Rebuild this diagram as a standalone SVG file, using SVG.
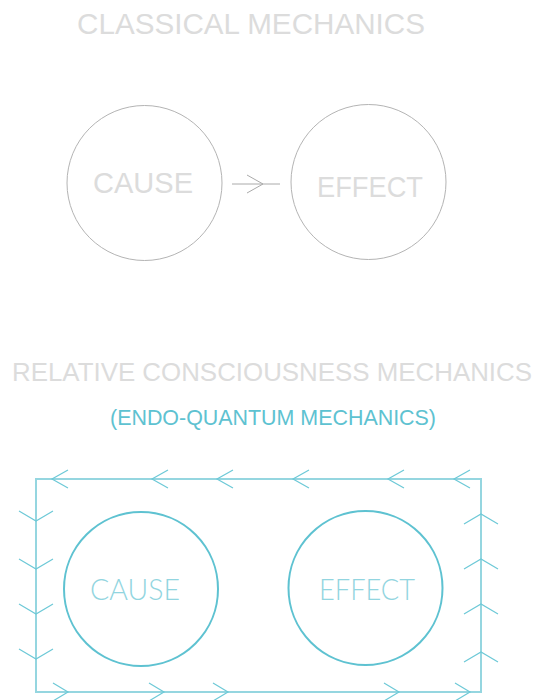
<svg xmlns="http://www.w3.org/2000/svg" xmlns:xlink="http://www.w3.org/1999/xlink" width="539" height="700" viewBox="0 0 539 700">
<style>
.title{font-family:"Liberation Sans",Arial,sans-serif;fill:#dcdcdc;}
.gray-node{fill:none;stroke:#b4b4b4;stroke-width:1;}
.gray-label{font-family:"Liberation Sans",Arial,sans-serif;font-size:30px;fill:#dcdcdc;}
.cyan-node{fill:none;stroke:#5ec2d1;stroke-width:2;}
.cyan-label{font-family:Lato,Inter,"Liberation Sans",sans-serif;font-weight:300;font-size:30px;fill:#92d5e0;}
.sub{font-family:"Liberation Sans",Arial,sans-serif;fill:#5ec2d1;}
.frame{fill:none;stroke:#95d6e0;stroke-width:2;}
.chev{fill:none;stroke:#6dc9d7;stroke-width:1.2;}
.garrow{fill:none;stroke:#aaaaaa;stroke-width:1;}
</style>
<defs>
<path id="chevL" class="chev" d="M16,-9 L0,0 L16,9"/>
<path id="chevR" class="chev" d="M-15,-9 L0,0 L-15,9"/>
<path id="chevD" class="chev" d="M-17,-10 L0,0 L17,-10"/>
<path id="chevU" class="chev" d="M-17,10 L0,0 L17,10"/>
</defs>
<rect width="539" height="700" fill="#ffffff"/>
<text class="title" x="77" y="34" font-size="30" textLength="348" lengthAdjust="spacingAndGlyphs">CLASSICAL MECHANICS</text>

<g id="cause-classical">
<circle class="gray-node" cx="144.5" cy="183" r="77.5"/>
<text class="gray-label" x="93" y="193" textLength="100" lengthAdjust="spacingAndGlyphs">CAUSE</text>
</g>
<g id="effect-classical">
<circle class="gray-node" cx="368.5" cy="182" r="77.5"/>
<text class="gray-label" x="317" y="197" textLength="106" lengthAdjust="spacingAndGlyphs">EFFECT</text>
</g>

<text class="title" x="12" y="380.5" font-size="26" textLength="520" lengthAdjust="spacingAndGlyphs">RELATIVE CONSCIOUSNESS MECHANICS</text>
<text class="sub" x="110" y="425" font-size="22" textLength="326" lengthAdjust="spacingAndGlyphs">(ENDO-QUANTUM MECHANICS)</text>

<g id="cause-quantum">
<circle class="cyan-node" cx="141" cy="589" r="77"/>
<text class="cyan-label" x="90" y="600" textLength="90" lengthAdjust="spacingAndGlyphs">CAUSE</text>
</g>
<g id="effect-quantum">
<circle class="cyan-node" cx="365.5" cy="588" r="77"/>
<text class="cyan-label" x="319" y="600" textLength="96" lengthAdjust="spacingAndGlyphs">EFFECT</text>
</g>

<g id="connectors">
<line class="garrow" x1="232" y1="184" x2="280" y2="184"/>
<path class="garrow" d="M247,175 L263,184 L247,193"/>
<rect class="frame" x="36" y="479" width="445" height="213"/>
<use xlink:href="#chevL" x="52" y="479"/>
<use xlink:href="#chevL" x="152" y="479"/>
<use xlink:href="#chevL" x="217" y="479"/>
<use xlink:href="#chevL" x="293" y="479"/>
<use xlink:href="#chevL" x="388" y="479"/>
<use xlink:href="#chevL" x="454" y="479"/>
<use xlink:href="#chevR" x="68" y="692"/>
<use xlink:href="#chevR" x="164" y="692"/>
<use xlink:href="#chevR" x="228" y="692"/>
<use xlink:href="#chevR" x="399" y="692"/>
<use xlink:href="#chevR" x="470" y="692"/>
<use xlink:href="#chevD" x="36" y="521"/>
<use xlink:href="#chevD" x="36" y="569"/>
<use xlink:href="#chevD" x="36" y="614"/>
<use xlink:href="#chevD" x="36" y="659"/>
<use xlink:href="#chevU" x="481" y="514"/>
<use xlink:href="#chevU" x="481" y="559"/>
<use xlink:href="#chevU" x="481" y="604"/>
<use xlink:href="#chevU" x="481" y="652"/>
</g>
</svg>
